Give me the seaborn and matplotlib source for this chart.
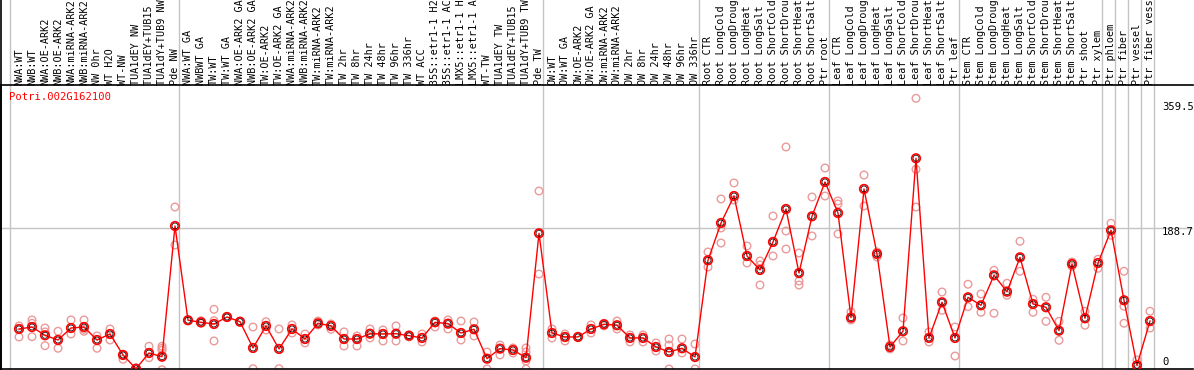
import numpy as np
import pandas as pd
import matplotlib
matplotlib.use("Agg")
import matplotlib.pyplot as plt
from matplotlib.lines import Line2D
import seaborn as sns

# ---------------------------------------------
# Data
# ---------------------------------------------
GENE = "Potri.002G162100"

group_nw = ["NWA:WT", "NWB:WT", "NWA:OE-ARK2", "NWB:OE-ARK2", "NWA:miRNA-ARK2",
            "NWB:miRNA-ARK2", "NW 0hr", "WT H2O", "WT-NW", "TUA1dEY NW",
            "TUA1dEY+TUB15 NW", "TUA1dY+TUB9 NW", "Pde NW"]
group_tw = ["NWA:WT GA", "NWBWT GA", "TW:WT", "TW:WT GA", "NWA:OE-ARK2 GA",
            "NWB:OE-ARK2 GA", "TW:OE-ARK2", "TW:OE-ARK2 GA", "NWA:miRNA-ARK2 GA",
            "NWB:miRNA-ARK2 GA", "TW:miRNA-ARK2", "TW:miRNA-ARK2 GA", "TW 2hr",
            "TW 8hr", "TW 24hr", "TW 48hr", "TW 96hr", "TW 336hr", "WT ACC",
            "35S::etr1-1 H2O", "35S::etr1-1 ACC", "LMX5::etr1-1 H2O",
            "LMX5::etr1-1 ACC", "WT-TW", "TUA1dEY TW", "TUA1dEY+TUB15 TW",
            "TUA1dY+TUB9 TW", "Pde TW"]
group_ow = ["OW:WT", "OW:WT GA", "OW:OE-ARK2", "OW:OE-ARK2 GA", "OW:miRNA-ARK2",
            "OW:miRNA-ARK2 GA", "OW 2hr", "OW 8hr", "OW 24hr", "OW 48hr",
            "OW 96hr", "OW 336hr"]
group_root = ["Root CTR", "Root LongCold", "Root LongDrought", "Root LongHeat",
              "Root LongSalt", "Root ShortCold", "Root ShortDrought",
              "Root ShortHeat", "Root ShortSalt", "Ptr root"]
group_leaf = ["Leaf CTR", "Leaf LongCold", "Leaf LongDrought", "Leaf LongHeat",
              "Leaf LongSalt", "Leaf ShortCold", "Leaf ShortDrought",
              "Leaf ShortHeat", "Leaf ShortSalt", "Ptr leaf"]
group_stem = ["Stem CTR", "Stem LongCold", "Stem LongDrought", "Stem LongHeat",
              "Stem LongSalt", "Stem ShortCold", "Stem ShortDrought",
              "Stem ShortHeat", "Stem ShortSalt", "Ptr shoot", "Ptr xylem"]
group_phloem = ["Ptr phloem"]
group_fiber = ["Ptr fiber"]
group_vessel = ["Ptr vessel"]
group_fvessel = ["Ptr fiber vessel"]

groups = [group_nw, group_tw, group_ow, group_root, group_leaf, group_stem,
          group_phloem, group_fiber, group_vessel, group_fvessel]

mean_values = [
    55.7, 58.3, 47.4, 41.2, 57.0, 58.3, 41.2, 49.1, 21.5, 3.4, 24.1, 19.2, 191.3,
    67.2, 64.5, 62.3, 71.5, 65.3, 30.7, 59.7, 29.4, 55.7, 42.5, 63.2, 59.7, 42.5,
    42.5, 49.5, 49.1, 49.5, 46.9, 43.9, 64.5, 62.7, 50.4, 55.3, 16.6, 29.8, 28.0,
    17.9, 181.7,
    50.4, 45.2, 45.2, 55.7, 61.9, 60.6, 43.9, 43.9, 32.0, 25.4, 30.3, 18.8,
    146.2, 195.3, 230.8, 151.8, 133.4, 170.3, 213.7, 129.4, 204.1, 249.3,
    208.4, 70.6, 240.1, 154.5, 32.0, 52.7, 280.5, 43.9, 90.9, 43.9,
    97.4, 86.9, 126.4, 104.8, 150.1, 88.6, 84.3, 53.5, 141.3, 69.8, 142.6,
    185.7, 93.5, 7.9, 66.2,
]

replicates = [
    [59.7, 45.2], [67.6, 63.2, 45.6], [57.0, 51.8, 33.7], [52.7, 30.3],
    [67.6, 49.1], [67.6, 55.3, 52.7], [46.5, 30.3], [55.7, 41.2], [21.5, 15.8],
    [4.3], [32.9, 17.9], [32.9, 30.3, 27.7, 2.1], [216.3, 166.3],
    [67.2], [66.6, 63.2], [81.6, 66.6, 39.9], [71.5], [65.3], [58.3, 3.4],
    [65.3, 54.4], [55.7, 3.4], [61.0, 50.4], [49.1, 37.3], [66.2, 61.0],
    [62.3, 55.3], [51.8, 33.3], [46.5, 33.3], [55.7, 43.9], [54.4, 39.9],
    [59.7, 39.9], [47.8, 45.2], [49.1, 38.6], [66.2, 58.3], [67.6, 55.7],
    [66.2, 41.2], [64.9, 46.5], [25.4, 3.0], [34.6, 21.5], [30.7, 24.1],
    [30.7, 25.4, 13.6, 3.0], [237.4, 128.1],
    [55.7, 43.9], [49.1, 39.9], [45.2], [61.0, 50.4], [63.2, 59.7], [66.2, 55.7],
    [47.8, 38.6], [47.8, 38.6], [37.3, 26.7], [42.5, 34.6, 3.0], [42.5, 24.1],
    [35.9, 3.0],
    [157.1, 137.3], [226.9, 188.7, 168.9], [248.0, 225.6], [165.0, 142.6],
    [145.2, 140.0, 113.6], [204.5, 151.8], [295.4, 184.7, 161.0],
    [155.8, 118.9, 113.6], [229.5, 178.2], [267.7, 230.8],
    [224.3, 220.3, 180.8], [78.1, 67.6], [258.5, 217.7], [157.1, 150.5],
    [34.6, 29.4], [70.2, 39.9], [359.5, 266.0, 216.3], [51.8, 38.6],
    [104.4, 80.3], [58.3, 20.1],
    [114.6, 85.1], [101.8, 77.7], [133.0, 76.4], [115.9, 100.1], [171.2, 131.7],
    [94.8, 77.7], [97.4, 65.8], [65.8, 40.8], [143.9, 138.3], [79.0, 60.6],
    [147.5, 135.6],
    [194.9, 179.1], [131.7, 85.6, 63.2], [14.9, 2.6], [79.0, 57.0],
]

axis_labels = ["359.5", "188.7", "0"]
grid_value = 188.7

# ---------------------------------------------
# Frames
# ---------------------------------------------
sample_names = [s for g in groups for s in g]
mean_df = pd.DataFrame({"idx": np.arange(len(sample_names)),
                        "sample": sample_names, "value": mean_values})
rep_df = pd.DataFrame([(i, v) for i, reps in enumerate(replicates) for v in reps],
                      columns=["idx", "value"])

RED = "#ff0000"
PINK = "#ea9a9a"
GRID = "#c4c4c4"
MONO = "DejaVu Sans Mono"

W, H = 1194, 370
fig = plt.figure(figsize=(W / 100, H / 100), dpi=100)
ax = fig.add_axes([1 / W, 1 / H, 1192 / W, 284 / H])

# x: point i sits at pixel 19 + 13*i ; y: 0 near bottom edge
ax.set_xlim((1 - 19) / 13, (1193 - 19) / 13)
ax.set_ylim(3.0, 377.0)

# group separators (run up through the header)
starts = np.cumsum([0] + [len(g) for g in groups])
head_top = H / 284 - 1 / 284
for s in starts:
    ax.axvline(s - 0.66, 0, head_top, color=GRID, lw=1.0, clip_on=False, zorder=0)
ax.axhline(grid_value, color=GRID, lw=1.0, zorder=0)

# replicates
sns.scatterplot(data=rep_df, x="idx", y="value", ax=ax, marker="o", s=30,
                facecolor="none", edgecolor=PINK, linewidth=1.0, zorder=2,
                legend=False)

# means
sns.lineplot(data=mean_df, x="idx", y="value", ax=ax, color=RED, lw=1.0,
             zorder=3, legend=False)
sns.scatterplot(data=mean_df, x="idx", y="value", ax=ax, marker="o", s=38,
                facecolor="none", edgecolor=RED, linewidth=1.2, zorder=4,
                legend=False)
sns.scatterplot(data=mean_df, x="idx", y="value", ax=ax, marker="o", s=18,
                facecolor="none", edgecolor="black", linewidth=0.5, zorder=5,
                legend=False)

# header sample labels (long ones run off the top, as in the source)
for i, name in enumerate(sample_names):
    ax.text(i, 1.0, name, transform=ax.get_xaxis_transform(), rotation=90,
            ha="center", va="bottom", fontsize=7.3, family=MONO,
            clip_on=False)

# spines
ax.spines["right"].set_visible(False)
for side in ["top", "bottom", "left"]:
    ax.spines[side].set_color("black")
    ax.spines[side].set_linewidth(1.2)
fig.add_artist(Line2D([1 / W, 1 / W], [0, 1], color="black", lw=1.2,
                      transform=fig.transFigure))

ax.set_xticks([])
ax.set_yticks([])
ax.set_xlabel("")
ax.set_ylabel("")

# gene name and value labels
fig.text(9 / W, 1 - 97 / H, GENE, color=RED, fontsize=7.6, family=MONO,
         ha="left", va="center")
for lab, ypx in zip(axis_labels, [107, 232, 362]):
    fig.text(1162 / W, 1 - ypx / H, lab, color="black", fontsize=7.6,
             family=MONO, ha="left", va="center")

fig.savefig("out.png", dpi=100)
